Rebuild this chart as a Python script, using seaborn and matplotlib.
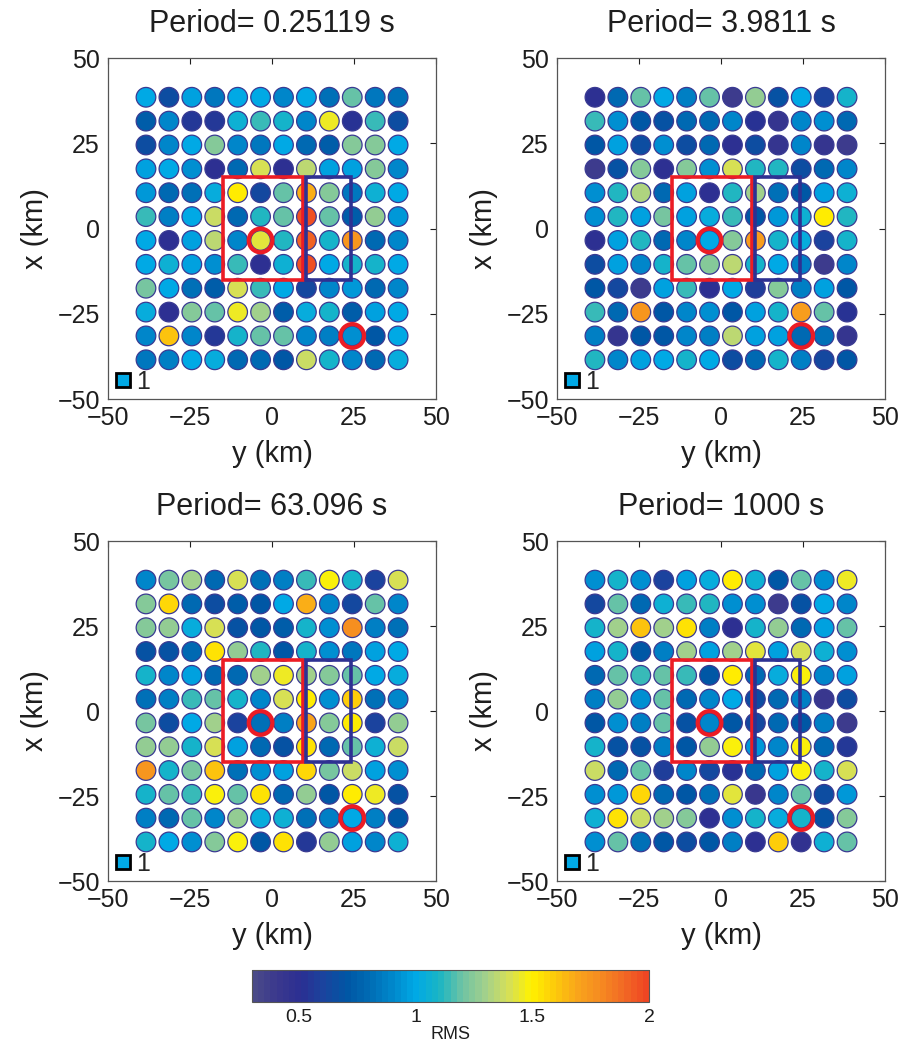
import numpy as np
import pandas as pd
import matplotlib
matplotlib.use("Agg")
import matplotlib.pyplot as plt
import seaborn as sns
from matplotlib.colors import LinearSegmentedColormap, Normalize
from matplotlib.patches import Rectangle
from matplotlib.lines import Line2D
import matplotlib.cm as cm

# ---------------- data ----------------
periods = ["0.25119", "3.9811", "63.096", "1000"]

# station coordinates (km)
station_y = [-38.5, -31.5, -24.5, -17.5, -10.5, -3.5, 3.5, 10.5, 17.5, 24.5, 31.5, 38.5]   # columns (horizontal axis)
station_x = [38.5, 31.5, 24.5, 17.5, 10.5, 3.5, -3.5, -10.5, -17.5, -24.5, -31.5, -38.5]   # rows (vertical axis), top to bottom

rms_p1 = [
    [1.00, 0.65, 0.97, 0.85, 1.00, 1.00, 0.90, 1.00, 0.82, 1.20, 0.85, 0.82],
    [0.75, 0.90, 0.55, 0.55, 1.05, 1.15, 1.08, 0.90, 1.45, 0.52, 1.15, 0.65],
    [0.65, 0.90, 1.00, 1.25, 0.90, 0.85, 1.00, 0.80, 0.75, 1.25, 1.25, 1.00],
    [0.97, 1.00, 0.92, 0.50, 0.80, 1.40, 0.50, 1.35, 0.97, 0.97, 1.25, 0.90],
    [0.95, 0.80, 0.82, 1.03, 1.52, 0.62, 1.20, 1.68, 1.25, 0.85, 1.05, 1.00],
    [1.15, 0.88, 1.00, 1.38, 0.80, 1.10, 1.18, 1.95, 1.18, 0.75, 1.28, 0.95],
    [1.00, 0.50, 0.97, 1.35, 0.90, 1.42, 1.10, 1.90, 1.08, 1.75, 0.80, 0.90],
    [1.00, 1.05, 0.97, 0.92, 1.15, 0.50, 1.05, 1.95, 1.00, 1.08, 1.08, 1.00],
    [1.22, 1.00, 0.82, 0.75, 1.40, 1.15, 1.00, 0.62, 0.90, 0.95, 0.80, 0.90],
    [1.03, 0.50, 1.25, 1.20, 1.45, 1.30, 0.75, 1.03, 1.08, 0.75, 0.97, 1.00],
    [0.90, 1.62, 0.90, 0.55, 1.08, 1.18, 1.18, 0.90, 0.88, 0.92, 0.72, 1.00],
    [0.85, 0.88, 1.00, 1.03, 0.80, 0.78, 0.72, 1.38, 1.08, 0.90, 0.80, 1.03],
]
rms_p2 = [
    [0.50, 0.80, 1.20, 1.00, 0.88, 1.20, 0.38, 1.28, 0.68, 1.00, 0.60, 1.08],
    [1.15, 0.92, 0.72, 0.68, 0.78, 0.80, 0.90, 0.52, 0.45, 0.90, 0.92, 0.80],
    [0.72, 0.97, 0.65, 0.92, 0.65, 0.78, 0.50, 0.65, 0.45, 0.90, 0.45, 0.38],
    [0.38, 0.68, 1.25, 0.50, 1.25, 0.92, 1.40, 1.10, 1.10, 0.65, 0.78, 0.90],
    [0.92, 1.10, 1.32, 0.80, 0.97, 0.50, 1.12, 1.30, 0.82, 0.72, 0.97, 1.05],
    [0.92, 1.10, 0.97, 1.22, 0.97, 1.02, 1.15, 0.72, 0.95, 1.05, 1.52, 1.10],
    [0.50, 0.97, 1.10, 0.80, 0.90, 1.00, 1.25, 1.72, 1.08, 1.02, 0.60, 1.08],
    [0.65, 0.97, 0.90, 1.08, 1.18, 1.25, 1.35, 1.08, 1.00, 0.88, 0.38, 0.90],
    [0.72, 0.62, 0.40, 0.97, 1.15, 0.50, 1.00, 0.58, 1.25, 0.88, 0.97, 0.72],
    [1.15, 0.78, 1.75, 0.72, 0.90, 0.92, 0.72, 0.97, 1.08, 1.72, 1.20, 0.52],
    [0.88, 0.45, 0.72, 0.72, 0.90, 0.88, 1.35, 0.97, 0.97, 0.78, 0.82, 0.45],
    [1.10, 0.90, 0.97, 1.00, 1.08, 1.00, 0.65, 0.78, 1.08, 0.88, 0.62, 0.70],
]
rms_p3 = [
    [0.90, 1.22, 1.30, 0.80, 1.40, 0.82, 0.88, 1.15, 1.48, 1.08, 0.60, 1.40],
    [1.25, 1.55, 0.78, 0.65, 0.75, 0.72, 1.00, 1.68, 0.90, 0.62, 1.20, 0.90],
    [1.25, 1.27, 1.02, 1.40, 0.68, 0.72, 0.75, 1.08, 0.92, 1.78, 0.88, 0.82],
    [0.68, 0.68, 0.80, 1.53, 1.28, 1.10, 0.70, 1.08, 0.92, 0.85, 0.97, 1.00],
    [1.08, 0.90, 0.98, 0.80, 0.78, 1.30, 1.45, 1.30, 1.25, 1.20, 1.00, 1.03],
    [0.82, 0.88, 1.15, 1.18, 1.08, 0.90, 1.40, 1.52, 0.92, 1.60, 0.82, 0.90],
    [1.22, 0.65, 1.00, 1.30, 0.60, 0.82, 0.88, 1.70, 1.25, 1.52, 0.60, 1.28],
    [1.28, 1.27, 1.08, 1.40, 0.98, 0.78, 0.68, 1.53, 0.80, 1.18, 1.06, 1.38],
    [1.75, 1.08, 1.22, 1.62, 0.82, 0.92, 0.98, 1.57, 1.22, 1.38, 0.97, 0.92],
    [1.08, 1.18, 1.15, 1.47, 1.18, 1.53, 0.80, 1.28, 0.72, 1.52, 1.45, 0.68],
    [0.88, 0.80, 1.18, 0.90, 1.28, 1.04, 1.06, 0.82, 0.88, 1.00, 0.88, 0.72],
    [1.08, 1.00, 0.92, 1.25, 1.47, 0.72, 1.53, 0.55, 1.28, 0.97, 0.90, 1.06],
]
rms_p4 = [
    [0.92, 1.08, 0.92, 0.60, 0.98, 1.03, 1.52, 1.06, 0.72, 1.18, 0.92, 1.45],
    [0.62, 1.20, 0.78, 1.05, 1.15, 1.10, 0.92, 0.92, 0.40, 0.68, 1.00, 0.90],
    [1.08, 1.30, 1.62, 1.30, 1.53, 0.88, 0.50, 1.08, 1.28, 0.80, 0.98, 1.20],
    [0.98, 1.08, 0.72, 0.88, 1.30, 0.98, 1.30, 1.42, 0.98, 1.40, 1.06, 0.92],
    [0.80, 1.20, 1.15, 1.18, 1.15, 0.72, 1.52, 0.80, 1.04, 1.47, 0.90, 0.98],
    [0.88, 1.28, 0.92, 1.18, 0.78, 0.90, 1.00, 0.65, 0.80, 0.88, 0.42, 0.65],
    [0.72, 0.92, 0.88, 1.18, 0.68, 0.90, 0.72, 0.62, 0.78, 0.72, 0.88, 0.38],
    [1.08, 0.68, 0.68, 0.88, 0.72, 1.27, 1.48, 0.95, 0.90, 1.47, 0.80, 0.55],
    [1.38, 0.80, 1.20, 0.58, 0.90, 0.62, 0.52, 0.80, 0.98, 1.48, 1.08, 1.40],
    [0.92, 0.95, 1.57, 0.80, 0.70, 0.82, 1.42, 0.42, 0.90, 1.18, 0.65, 0.95],
    [1.05, 1.53, 1.38, 1.30, 1.23, 0.50, 0.92, 1.08, 1.04, 1.08, 0.68, 1.25],
    [0.92, 1.20, 0.82, 0.70, 0.65, 0.72, 0.88, 0.50, 1.60, 0.48, 1.06, 1.20],
]
rms_panels = [rms_p1, rms_p2, rms_p3, rms_p4]

# highlighted stations (y, x)
highlight_y = [-3.5, 24.5]
highlight_x = [-3.5, -31.5]

# zones: (y0, y1, x0, x1)
red_zone = (-15.0, 9.5, -15.0, 15.0)
blue_zone = (10.5, 24.0, -15.0, 15.0)

axis_ticks = [-50, -25, 0, 25, 50]
cbar_ticks = [0.5, 1, 1.5, 2]
cbar_ticklabels = ["0.5", "1", "1.5", "2"]
rms_min, rms_max = 0.3, 2.0

# ---------------- style ----------------
sns.set_theme(style="white")
plt.rcParams["font.family"] = ["Liberation Sans", "DejaVu Sans"]
plt.rcParams["axes.unicode_minus"] = True

anchor_vals = [0.3, 0.4, 0.5, 0.6, 0.7, 0.8, 0.9, 1.0, 1.1, 1.2, 1.3, 1.4, 1.5, 1.6, 1.7, 1.8, 1.9, 2.0]
anchor_cols = ["#4a4a88", "#3a388e", "#2b2f92", "#1a449e", "#0056a4", "#006cb4", "#0088cc", "#00a9e6",
               "#19b5c4", "#6ec3a4", "#a2d08c", "#d4df5a", "#fff200", "#fdcb0a", "#f9a51b", "#f68b21",
               "#f26a24", "#ef4623"]
pos = [(v - rms_min) / (rms_max - rms_min) for v in anchor_vals]
cmap = LinearSegmentedColormap.from_list("rms", list(zip(pos, anchor_cols)), N=64)
norm = Normalize(vmin=rms_min, vmax=rms_max)

fig = plt.figure(figsize=(8.99, 10.44), dpi=100)
fig.patch.set_facecolor("white")

ax_pos = [
    [0.1205, 0.6178, 0.3642, 0.3266],
    [0.6199, 0.6178, 0.3642, 0.3266],
    [0.1205, 0.1561, 0.3642, 0.3257],
    [0.6199, 0.1561, 0.3642, 0.3257],
]
txt = "#1e1e1e"

for i, (period, rms) in enumerate(zip(periods, rms_panels)):
    ax = fig.add_axes(ax_pos[i])
    rows = []
    for r, xv in enumerate(station_x):
        for c, yv in enumerate(station_y):
            rows.append({"y": yv, "x": xv, "rms": rms[r][c]})
    df = pd.DataFrame(rows)
    sns.scatterplot(data=df, x="y", y="x", hue="rms", palette=cmap, hue_norm=norm,
                    s=200, edgecolor="#3a3a92", linewidth=0.9, legend=False, ax=ax, zorder=2)
    # zones
    for zone, col in [(red_zone, "#ec1c24"), (blue_zone, "#2e3192")]:
        y0, y1, x0, x1 = zone
        ax.add_patch(Rectangle((y0, x0), y1 - y0, x1 - x0, fill=False, edgecolor=col,
                               linewidth=2.6, zorder=3))
    # highlighted stations
    ax.scatter(highlight_y, highlight_x, s=290, facecolors="none", edgecolors="#ec1c24",
               linewidths=3.0, zorder=4)

    ax.set_xlim(-50, 50)
    ax.set_ylim(-50, 50)
    ax.set_xticks(axis_ticks)
    ax.set_yticks(axis_ticks)
    ax.set_xticklabels([str(t).replace("-", "\u2212") for t in axis_ticks])
    ax.set_yticklabels([str(t).replace("-", "\u2212") for t in axis_ticks])
    ax.tick_params(direction="in", top=True, right=True, length=4, width=0.8,
                   labelsize=18, colors=txt, pad=6)
    ax.tick_params(axis="x", pad=5)
    for sp in ax.spines.values():
        sp.set_color("#555555")
        sp.set_linewidth(0.9)
    ax.set_xlabel("y (km)", fontsize=21, color=txt, labelpad=7)
    ax.set_ylabel("x (km)", fontsize=21, color=txt, labelpad=6)
    ax.set_title(f"Period= {period} s", fontsize=22, color=txt, pad=19)

    handle = Line2D([], [], linestyle="none", marker="s", markersize=10,
                    markerfacecolor="#00a9e6", markeredgecolor="black", markeredgewidth=2)
    ax.legend([handle], ["1"], loc="lower left", frameon=False, fontsize=18,
              handlelength=0.8, handletextpad=0.1, borderaxespad=0.0, borderpad=0.2)

# colorbar
cax = fig.add_axes([0.28, 0.0402, 0.4423, 0.0311])
sm = cm.ScalarMappable(norm=norm, cmap=cmap)
cb = fig.colorbar(sm, cax=cax, orientation="horizontal", ticks=cbar_ticks)
cb.set_ticklabels(cbar_ticklabels)
cb.outline.set_edgecolor("#555555")
cb.outline.set_linewidth(0.8)
cax.tick_params(direction="in", top=True, bottom=True, length=4, labelsize=14,
                colors=txt, pad=5)
cb.set_label("RMS", fontsize=13, color=txt, labelpad=0)

fig.savefig("out.png", dpi=100, facecolor="white")
